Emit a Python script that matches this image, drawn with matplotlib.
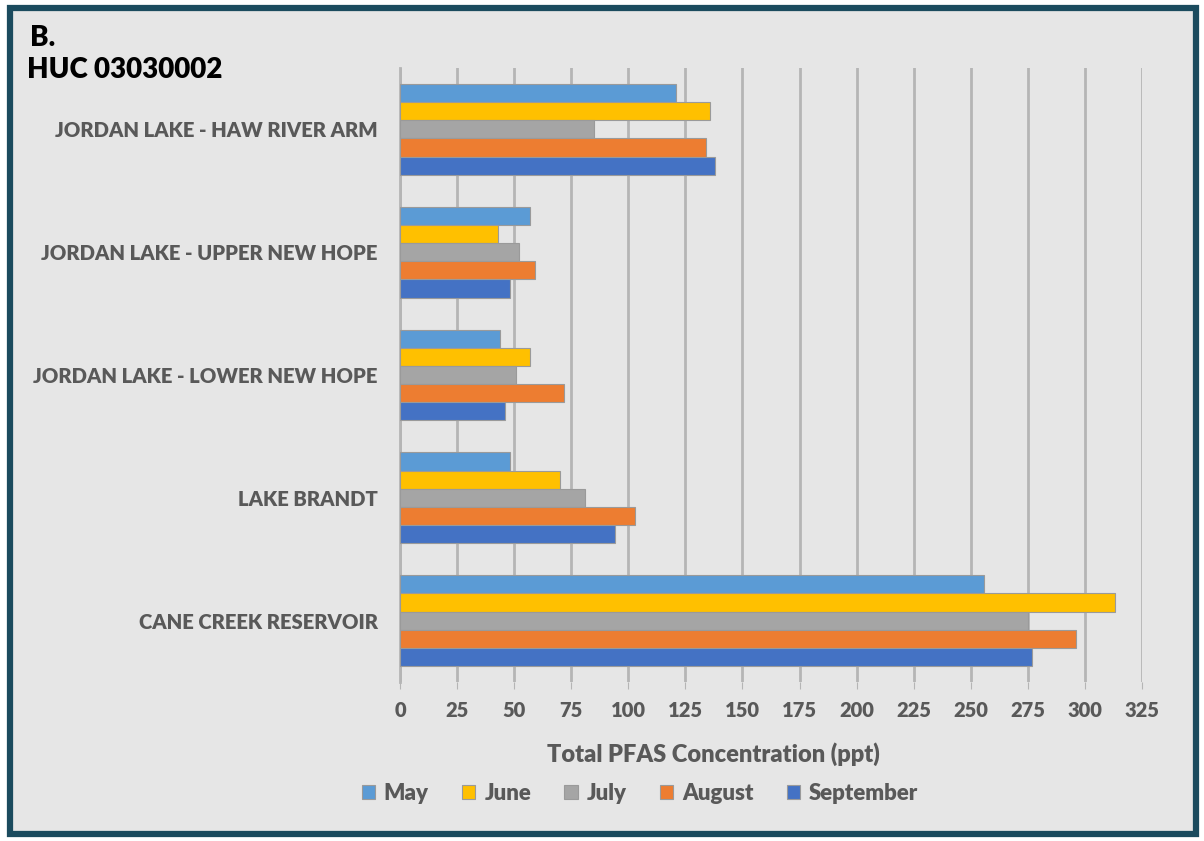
import numpy as np
import matplotlib.pyplot as plt
from matplotlib.patches import Rectangle

plt.rcParams['font.family'] = ['Lato', 'DejaVu Sans']

# bottom to top, as drawn on the y axis
sites = ["CANE CREEK RESERVOIR", "LAKE BRANDT", "JORDAN LAKE - LOWER NEW HOPE",
         "JORDAN LAKE - UPPER NEW HOPE", "JORDAN LAKE - HAW RIVER ARM"]
months = ["May", "June", "July", "August", "September"]
may = [256, 48, 44, 57, 121]
june = [313, 70, 57, 43, 136]
july = [275, 81, 51, 52, 85]
august = [296, 103, 72, 59, 134]
september = [277, 94, 46, 48, 138]
colors = ["#5B9BD5", "#FFC000", "#A5A5A5", "#ED7D31", "#4472C4"]
xticks = list(range(0, 326, 25))

series = [may, june, july, august, september]
bg = "#E6E6E6"
grey = "#595959"

fig = plt.figure(figsize=(12.04, 8.41), dpi=100)
fig.patch.set_facecolor("white")
fig.patches.append(Rectangle((0.008, 0.008), 0.985, 0.982, transform=fig.transFigure,
                             facecolor=bg, edgecolor="#1B4B5E", linewidth=4.5, zorder=-1))

ax = fig.add_axes([400 / 1204, 1 - 682 / 841, 742 / 1204, 614 / 841])
ax.set_zorder(2)
ax.set_facecolor(bg)

y = np.arange(len(sites))
h = 0.148
for i, (vals, c, m) in enumerate(zip(series, colors, months)):
    ax.barh(y + (2 - i) * h, vals, height=h, color=c, edgecolor="#9A9A9A",
            linewidth=0.8, label=m, zorder=3)

ax.set_xlim(0, 325)
ax.set_ylim(-0.5, 4.5)
ax.set_xticks(xticks)
ax.set_xticklabels([str(v) for v in xticks])
ax.set_yticks(y)
ax.set_yticklabels(sites)
ax.grid(axis="x", color="#B5B5B5", linewidth=2, zorder=0)
for s in ["top", "right", "bottom"]:
    ax.spines[s].set_visible(False)
ax.spines["left"].set_color("#B5B5B5")
ax.spines["left"].set_linewidth(2)
ax.tick_params(axis="x", length=5, color="#B5B5B5", labelsize=14.5, labelcolor=grey, pad=9)
ax.tick_params(axis="y", length=0, labelsize=14.6, labelcolor=grey, pad=16)
for lab in ax.get_xticklabels() + ax.get_yticklabels():
    lab.set_fontweight("heavy")

ax.set_xlabel("Total PFAS Concentration (ppt)", fontsize=17, fontweight="heavy", color=grey)
ax.xaxis.set_label_coords((713 - 400) / 742, -(60 - 0) / 614)

fig.text(30 / 1204, 1 - 38 / 841, "B.", fontsize=20, fontweight="heavy", va="center")
fig.text(27 / 1204, 1 - 70 / 841, "HUC 03030002", fontsize=20, fontweight="heavy", va="center")

leg = fig.legend(loc="center", bbox_to_anchor=(640 / 1204, 1 - 793 / 841), ncol=5,
                 frameon=False, handlelength=0.6, handleheight=0.6, handletextpad=0.4,
                 columnspacing=1.5, prop={"size": 16, "weight": "heavy"})
for t in leg.get_texts():
    t.set_color(grey)

fig.savefig("out.png", dpi=100, facecolor=fig.get_facecolor())
